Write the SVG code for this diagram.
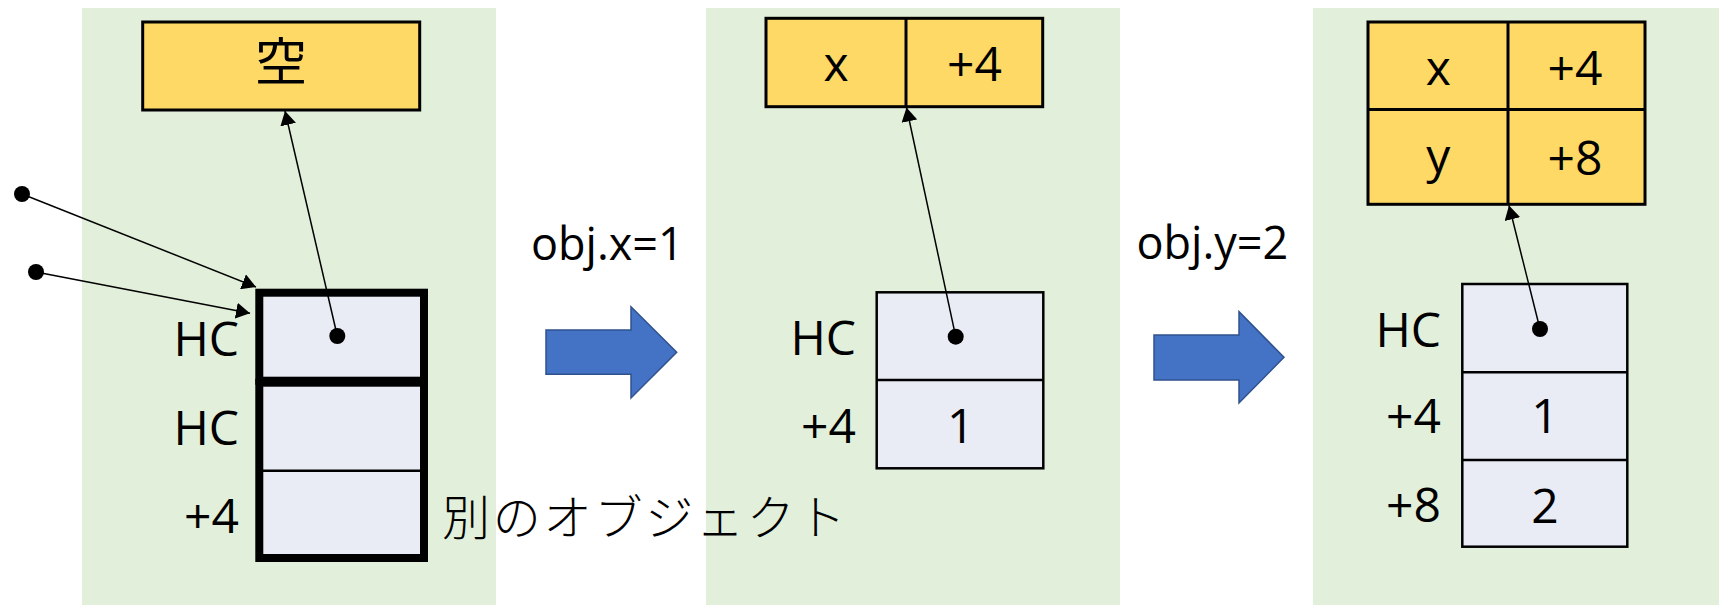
<svg xmlns="http://www.w3.org/2000/svg" width="1719" height="605" viewBox="0 0 1719 605">
<style>
.panel{fill:#E2EFDA}
.ytab{fill:#FFD966;stroke:#000;stroke-width:3}
.cell{fill:#E9EBF5;stroke:#000;stroke-width:2.5}
.thick{fill:#E9EBF5;stroke:#000;stroke-width:8}
.div{stroke:#000;stroke-width:2.5;fill:none}
.t{font-family:"Open Sans","Noto Sans",sans-serif;font-size:48px;fill:#000}
.lab{text-anchor:end}
.mid{text-anchor:middle}
.op{font-family:"Open Sans","Noto Sans",sans-serif;font-size:45px;fill:#000}
.jp{font-family:"Noto Sans CJK JP",sans-serif;fill:#000}
.conn{stroke:#000;stroke-width:1.5;fill:none;marker-end:url(#ah)}
.dot{fill:#000}
.big{fill:#4472C4;stroke:#2F528F;stroke-width:1.5}
</style>
<defs>
<marker id="ah" viewBox="0 0 14 16" refX="14" refY="8" markerWidth="14" markerHeight="16" markerUnits="userSpaceOnUse" orient="auto">
<path d="M0,0 L14,8 L0,16 z" fill="#000"/>
</marker>
</defs>
<rect width="1719" height="605" fill="#fff"/>
<g id="panels">
<rect class="panel" x="82" y="8" width="414" height="597"/>
<rect class="panel" x="706" y="8" width="414" height="597"/>
<rect class="panel" x="1313" y="8" width="406" height="597"/>
</g>

<g id="hidden-class-empty">
<rect class="ytab" x="142.7" y="22" width="277" height="88"/>
<text class="jp mid" x="281" y="81" font-size="52">空</text>
</g>

<g id="object-left">
<rect class="thick" x="259.3" y="382.7" width="164.7" height="175.3"/>
<line class="div" x1="263" y1="470.7" x2="420" y2="470.7"/>
<rect class="thick" x="259.3" y="292.7" width="164.7" height="88"/>
<text class="t lab" x="239" y="356">HC</text>
<text class="t lab" x="239" y="445">HC</text>
<text class="t lab" x="239" y="533">+4</text>
</g>

<g id="label-other-object">
<text class="jp" x="442" y="535" font-size="48" font-weight="300" letter-spacing="2.8">別のオブジェクト</text>
</g>

<g id="step-arrow-1">
<path class="big" d="M546,330 L631,330 L631,306.7 L676.7,352.3 L631,398 L631,374.3 L546,374.3 Z"/>
<text class="op" x="531" y="260">obj.x=1</text>
</g>

<g id="hidden-class-x">
<rect class="ytab" x="766" y="18.3" width="276.7" height="88.4"/>
<line class="div" x1="906" y1="18.3" x2="906" y2="106.7" style="stroke-width:3"/>
<text class="t mid" x="836" y="81">x</text>
<text class="t mid" x="974.5" y="81">+4</text>
</g>

<g id="object-mid">
<rect class="cell" x="876.7" y="292.3" width="166.6" height="176"/>
<line class="div" x1="876.7" y1="380" x2="1043.3" y2="380"/>
<text class="t lab" x="856" y="355">HC</text>
<text class="t lab" x="856" y="443.3">+4</text>
<text class="t mid" x="960.7" y="443.3">1</text>
</g>

<g id="step-arrow-2">
<path class="big" d="M1154,335 L1239,335 L1239,311.7 L1284,357.3 L1239,403 L1239,380 L1154,380 Z"/>
<text class="op" x="1136.5" y="259.3">obj.y=2</text>
</g>

<g id="hidden-class-xy">
<rect class="ytab" x="1368" y="22" width="277" height="182.3"/>
<line class="div" x1="1508" y1="22" x2="1508" y2="204.3" style="stroke-width:3"/>
<line class="div" x1="1368" y1="109.5" x2="1645" y2="109.5" style="stroke-width:3"/>
<text class="t mid" x="1438.3" y="85">x</text>
<text class="t mid" x="1575" y="85">+4</text>
<text class="t mid" x="1438.3" y="173">y</text>
<text class="t mid" x="1575" y="175">+8</text>
</g>

<g id="object-right">
<rect class="cell" x="1462.3" y="284" width="165" height="262.7"/>
<line class="div" x1="1462.3" y1="372.3" x2="1627.3" y2="372.3"/>
<line class="div" x1="1462.3" y1="460" x2="1627.3" y2="460"/>
<text class="t lab" x="1441" y="346.7">HC</text>
<text class="t lab" x="1441" y="433.3">+4</text>
<text class="t lab" x="1441" y="521.7">+8</text>
<text class="t mid" x="1545" y="433.3">1</text>
<text class="t mid" x="1545" y="522.7">2</text>
</g>

<g id="connectors">
<circle class="dot" cx="22" cy="194" r="8"/>
<line class="conn" x1="22" y1="194" x2="256" y2="287"/>
<circle class="dot" cx="36" cy="272" r="8"/>
<line class="conn" x1="36" y1="272" x2="250" y2="313.3"/>
<circle class="dot" cx="337.3" cy="336" r="8"/>
<line class="conn" x1="337.3" y1="336" x2="285" y2="111"/>
<circle class="dot" cx="955.7" cy="336.7" r="8"/>
<line class="conn" x1="955.7" y1="336.7" x2="906.5" y2="107.5"/>
<circle class="dot" cx="1540" cy="329" r="8"/>
<line class="conn" x1="1540" y1="329" x2="1509" y2="205.5"/>
</g>
</svg>
